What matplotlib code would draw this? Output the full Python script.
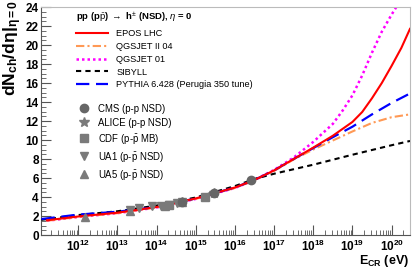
#!/usr/bin/env python3
import numpy as np
from matplotlib import pyplot as plt

plt.rcParams['font.family'] = ['Liberation Sans', 'DejaVu Sans']
plt.rcParams['mathtext.fontset'] = 'custom'
plt.rcParams['mathtext.rm'] = 'Liberation Sans'
plt.rcParams['mathtext.it'] = 'Liberation Sans:italic'
plt.rcParams['mathtext.bf'] = 'Liberation Sans:bold'

# model curves: log10(E_CR / eV) and dNch/deta at eta=0
epos_logE = [11.2, 12.0, 13.0, 14.0, 15.0, 16.0, 16.5, 17.0, 17.5, 18.0, 18.5, 19.0,
             19.25, 19.5, 19.75, 20.0, 20.25, 20.47]
epos_val = [1.55, 1.95, 2.35, 2.95, 3.85, 5.0, 5.8, 6.8, 8.0, 9.2, 10.45, 11.9,
            12.95, 14.4, 16.0, 17.8, 19.7, 21.7]

qgs2_logE = [11.2, 12.0, 13.0, 14.0, 15.0, 16.0, 16.5, 17.0, 17.5, 18.0, 18.5, 19.0,
             19.5, 20.0, 20.47]
qgs2_val = [1.5, 1.9, 2.3, 2.9, 3.8, 4.95, 5.75, 6.75, 7.95, 9.0, 9.95, 10.9,
            11.8, 12.4, 12.7]

qgs1_logE = [11.2, 12.0, 13.0, 14.0, 15.0, 16.0, 16.5, 17.0, 17.5, 18.0, 18.5, 18.75,
             19.0, 19.25, 19.5, 19.75, 20.0, 20.47]
qgs1_val = [1.5, 1.9, 2.3, 2.9, 3.8, 4.95, 5.8, 6.85, 8.15, 9.8, 11.7, 13.1,
            14.7, 16.8, 19.2, 21.4, 23.2, 26.3]

sib_logE = [11.06, 12.0, 13.0, 14.0, 15.0, 16.0, 16.5, 17.0, 18.0, 19.0, 20.0, 20.47]
sib_val = [1.6, 2.1, 2.5, 3.1, 3.95, 5.15, 5.9, 6.45, 7.4, 8.45, 9.45, 9.9]

pyth_logE = [11.06, 12.0, 13.0, 14.0, 15.0, 16.0, 16.5, 17.0, 17.5, 18.0, 18.5, 19.0,
             19.5, 20.0, 20.47]
pyth_val = [1.68, 2.15, 2.45, 2.95, 3.85, 5.0, 5.8, 6.8, 8.0, 9.15, 10.3, 11.4,
            12.7, 13.9, 14.9]

# measurements: E_CR (eV) and dNch/deta
cms_E = [4.32e14, 2.97e15, 2.61e16]
cms_val = [3.48, 4.47, 5.78]
alice_E = [4.32e14, 2.97e15]
alice_val = [3.51, 4.43]
cdf_E = [2.12e14, 1.73e15]
cdf_val = [3.18, 3.95]
ua1_E = [2.13e13, 3.6e13, 7.7e13, 1.33e14, 2.05e14, 3.33e14, 4.32e14]
ua1_val = [2.63, 2.8, 3.02, 3.1, 3.2, 3.35, 3.45]
ua5_E = [1.5e12, 2.13e13, 1.59e14, 4.32e14]
ua5_val = [1.9, 2.48, 3.05, 3.43]

xticks_exp = [12, 13, 14, 15, 16, 17, 18, 19, 20]


def main():
    fig = plt.figure(figsize=(4.14, 2.70), dpi=100)
    ax = fig.add_axes([0.1002, 0.1296, 0.8901, 0.8444])

    x = lambda l: 10**np.array(l)
    l1, = ax.plot(x(epos_logE), epos_val, color='#ff0000', lw=1.5, zorder=5,
                  label='EPOS LHC')
    l2, = ax.plot(x(qgs2_logE), qgs2_val, color='#ff9955', lw=1.5, zorder=3,
                  ls=(0, (4, 1.5, 1, 1.5)), label='QGSJET II 04')
    l3, = ax.plot(x(qgs1_logE), qgs1_val, color='#ff00ff', lw=1.8, zorder=2,
                  ls=(0, (1, 1.2)), label='QGSJET 01')
    l4, = ax.plot(x(sib_logE), sib_val, color='black', lw=1.5, zorder=4,
                  ls=(0, (2.5, 2)), label='SIBYLL')
    l5, = ax.plot(x(pyth_logE), pyth_val, color='#0000ff', lw=1.6, zorder=4,
                  ls=(0, (6, 3)), label='PYTHIA 6.428 (Perugia 350 tune)')

    gc = '#7a7a7a'
    m1, = ax.plot(cms_E, cms_val, 'o', ms=6, color='#666666', ls='none', zorder=8,
                  label='CMS (p-p NSD)')
    m2, = ax.plot(alice_E, alice_val, '*', ms=7.5, color=gc, ls='none', zorder=7,
                  label='ALICE (p-p NSD)')
    m3, = ax.plot(cdf_E, cdf_val, 's', ms=5.5, color=gc, ls='none', zorder=7,
                  label=r'CDF (p-$\bar{\rm p}$ MB)')
    m4, = ax.plot(ua1_E, ua1_val, 'v', ms=6, color=gc, ls='none', zorder=7,
                  label=r'UA1 (p-$\bar{\rm p}$ NSD)')
    m5, = ax.plot(ua5_E, ua5_val, '^', ms=6, color=gc, ls='none', zorder=7,
                  label=r'UA5 (p-$\bar{\rm p}$ NSD)')

    ax.set_xscale('log')
    ax.set_xlim(10**11.06, 10**20.47)
    ax.set_ylim(0, 24)

    ax.set_xticks([10.0**e for e in xticks_exp])
    ax.set_xticklabels([r'$\mathbf{10^{%d}}$' % e for e in xticks_exp])
    ax.set_yticks(np.arange(0, 25, 2))
    ax.set_yticks(np.arange(0, 24.1, 0.5), minor=True)
    ax.tick_params(which='both', direction='in', top=False, right=False,
                   color='#555555')
    ax.tick_params(which='major', length=7, width=0.8)
    ax.tick_params(which='minor', length=3.5, width=0.6)
    ax.tick_params(axis='x', labelsize=8.5, pad=3)
    ax.tick_params(axis='y', labelsize=8.5, pad=2)
    for lab in ax.get_yticklabels():
        lab.set_fontweight('bold')
    for s in ['top', 'right']:
        ax.spines[s].set_color('#bbbbbb')
    for s in ['left', 'bottom']:
        ax.spines[s].set_color('#555555')

    fig.text(0.003, 0.998, r'$\mathbf{dN_{ch}/d\eta|_{\eta=0}}$', rotation=90,
             ha='left', va='top', fontsize=12.5)
    fig.text(0.987, 0.002, r'$\mathbf{E_{CR}}$ (eV)', ha='right', va='bottom',
             fontsize=9, fontweight='bold')

    leg1 = ax.legend(handles=[l1, l2, l3, l4, l5], loc='upper left',
                     bbox_to_anchor=(0.088, 0.99), frameon=False, fontsize=6.6,
                     title=r'pp (p$\bar{\rm p}$) $\rightarrow$ h$^{\pm}$ (NSD), $\eta$ = 0',
                     title_fontproperties={'weight': 'bold', 'size': 6.8},
                     handlelength=3.5, handletextpad=0.9, labelspacing=0.42,
                     borderpad=0.2, borderaxespad=0)
    leg1._legend_box.align = 'left'
    ax.add_artist(leg1)
    ax.legend(handles=[m1, m2, m3, m4, m5], loc='upper left',
              bbox_to_anchor=(0.095, 0.585), frameon=False, fontsize=6.9,
              handlelength=1.2, handletextpad=0.8, labelspacing=0.42,
              borderpad=0.2, borderaxespad=0)

    fig.savefig('out.png', dpi=100)


if __name__ == '__main__':
    main()
